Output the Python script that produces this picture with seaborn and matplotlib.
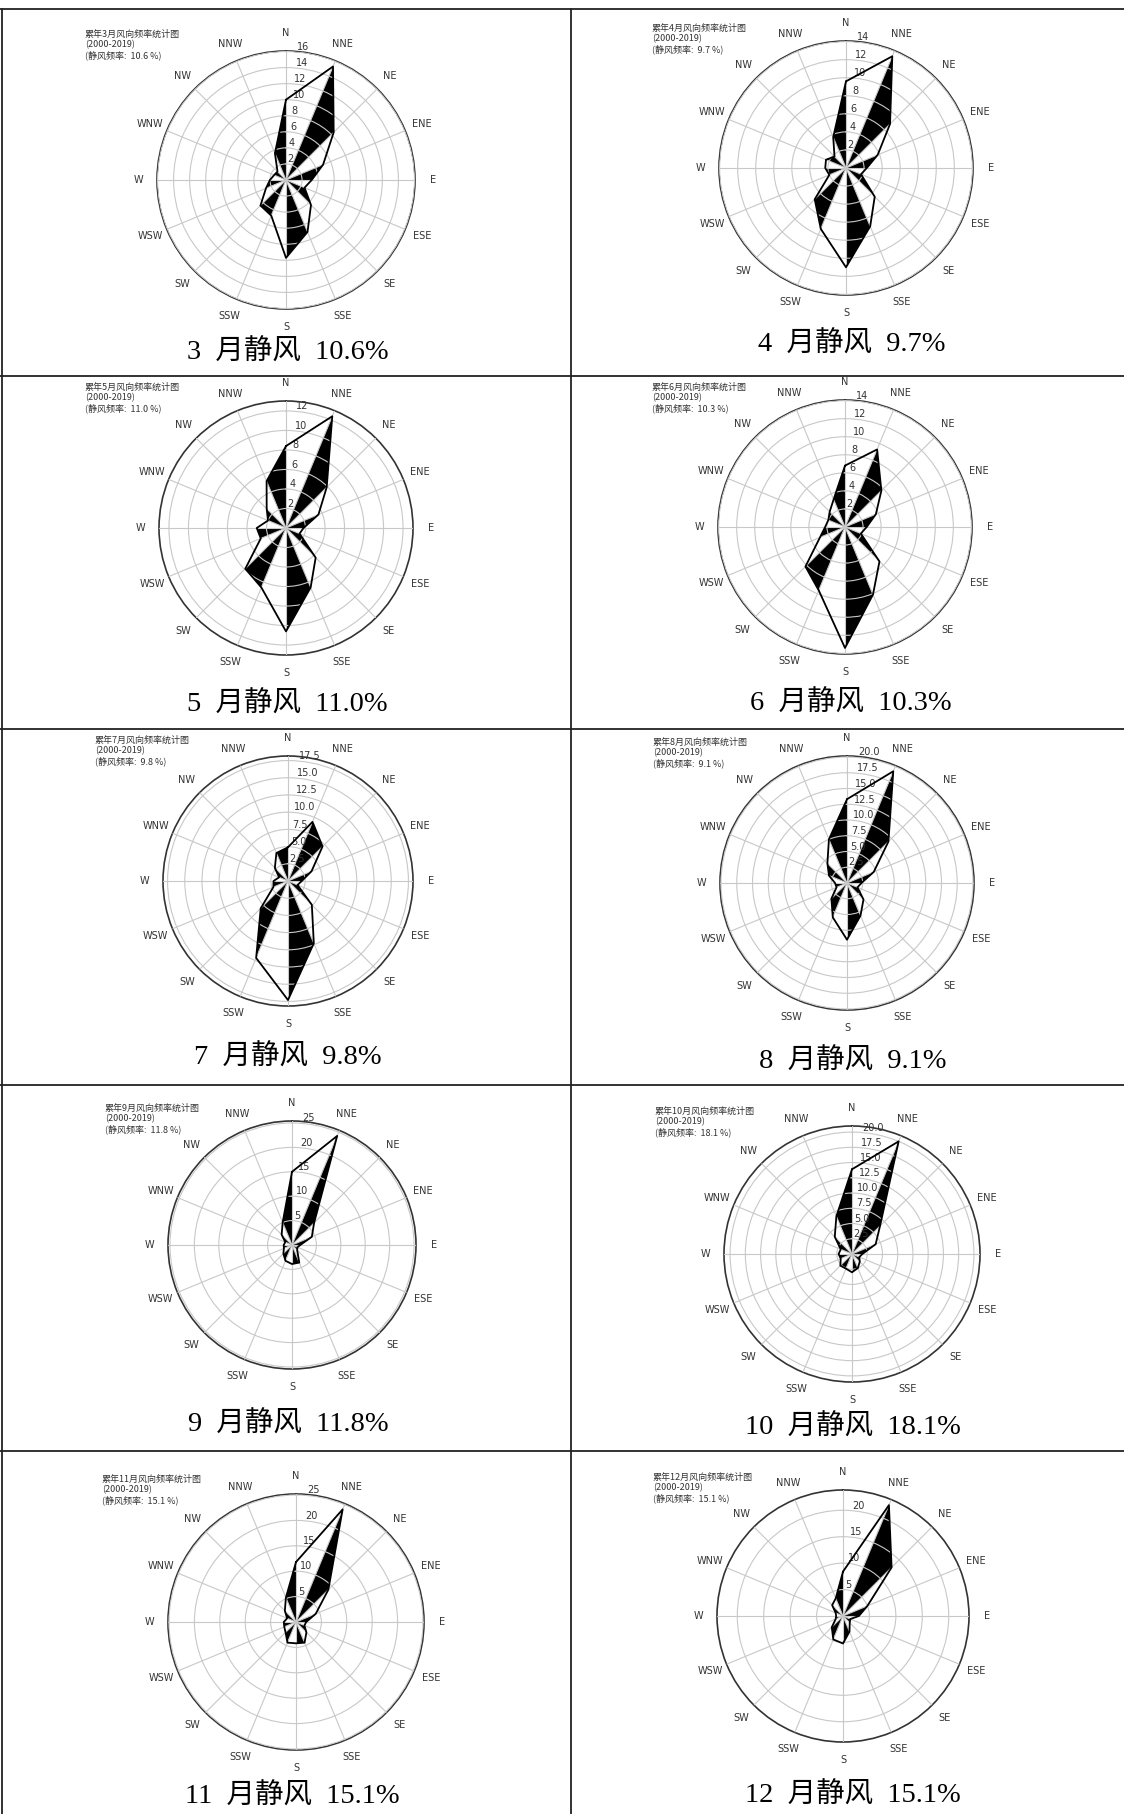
import numpy as np
import matplotlib
matplotlib.use("Agg")
import matplotlib.pyplot as plt
import seaborn as sns
from matplotlib.lines import Line2D
from matplotlib.ticker import MaxNLocator

# ---------------- data ----------------
directions = ["N", "NNE", "NE", "ENE", "E", "ESE", "SE", "SSE",
              "S", "SSW", "SW", "WSW", "W", "WNW", "NW", "NNW"]
months = [3, 4, 5, 6, 7, 8, 9, 10, 11, 12]
calm_rate = [10.6, 9.7, 11.0, 10.3, 9.8, 9.1, 11.8, 18.1, 15.1, 15.1]

freq_mar = [10.0, 15.3, 8.4, 5.0, 3.2, 2.5, 4.4, 7.0, 9.7, 4.8, 4.5, 2.7, 2.0, 1.6, 1.5, 3.6]
freq_apr = [9.6, 13.4, 6.9, 3.8, 2.3, 1.8, 4.5, 7.0, 11.0, 7.3, 4.9, 2.0, 2.3, 2.4, 1.8, 3.7]
freq_may = [8.4, 12.4, 5.9, 3.6, 1.8, 1.5, 4.3, 6.6, 10.6, 6.6, 5.9, 2.8, 3.0, 2.0, 2.8, 5.2]
freq_jun = [6.8, 9.3, 5.7, 3.7, 2.4, 1.9, 5.4, 8.1, 13.4, 7.6, 6.2, 3.0, 2.2, 2.0, 2.4, 3.3]
freq_jul = [4.9, 9.3, 7.1, 3.7, 2.0, 1.5, 4.9, 9.8, 17.3, 12.1, 5.6, 2.3, 2.1, 1.4, 2.7, 4.4]
freq_aug = [13.3, 19.2, 9.3, 4.6, 2.3, 1.8, 3.7, 5.6, 9.0, 5.9, 3.5, 1.8, 1.9, 3.1, 4.4, 7.5]
freq_sep = [15.0, 24.2, 6.4, 4.4, 1.7, 1.2, 1.5, 3.9, 3.9, 3.5, 2.5, 1.8, 1.7, 1.5, 3.0, 5.0]
freq_oct = [13.9, 20.0, 6.5, 4.2, 1.7, 1.3, 1.8, 2.5, 3.0, 2.6, 2.7, 2.0, 2.2, 2.0, 4.0, 6.7]
freq_nov = [11.8, 24.0, 9.0, 4.2, 2.0, 1.8, 2.9, 4.4, 4.2, 4.4, 2.9, 2.5, 2.4, 1.9, 3.1, 5.2]
freq_dec = [8.4, 22.7, 13.0, 5.0, 3.0, 1.5, 1.8, 3.2, 5.2, 4.8, 3.0, 1.5, 1.3, 1.5, 2.9, 3.6]

freqs = [freq_mar, freq_apr, freq_may, freq_jun, freq_jul,
         freq_aug, freq_sep, freq_oct, freq_nov, freq_dec]

# ---------------- layout (pixels in the 1124x1814 canvas) ----------------
W, H = 1124, 1814
rose_center = [(286, 180), (846, 168), (286, 528), (845, 527), (288, 881),
               (847, 883), (292, 1245), (852, 1254), (296, 1622), (843, 1616)]
rose_radius = [129, 127, 127, 127, 125, 127, 124, 128, 128, 126]
title_xy = [(85, 30), (652, 24), (85, 383), (652, 383), (95, 736),
            (653, 738), (105, 1104), (655, 1107), (102, 1475), (653, 1473)]
caption_xy = [(288, 353), (852, 345), (287, 705), (851, 704), (288, 1058),
              (853, 1062), (288, 1425), (853, 1428), (292, 1797), (853, 1796)]
h_lines = [9, 376, 729, 1085, 1451]
v_lines = [2, 571]

sns.set_theme(style="white")
plt.rcParams["font.family"] = ["DejaVu Sans", "Noto Sans CJK SC"]

fig = plt.figure(figsize=(W / 100, H / 100), dpi=100)
fig.patch.set_facecolor("white")

theta = np.deg2rad(np.arange(16) * 22.5)
theta_closed = np.append(theta, 2 * np.pi)

for k, m in enumerate(months):
    vals = np.array(freqs[k], dtype=float)
    cx, cy = rose_center[k]
    R = rose_radius[k]
    ax = fig.add_axes([(cx - R) / W, 1 - (cy + R) / H, 2 * R / W, 2 * R / H],
                      projection="polar")
    ax.set_theta_zero_location("N")
    ax.set_theta_direction(-1)
    ax.set_facecolor("white")

    # alternating black sectors
    r_closed = np.append(vals, vals[0])
    for i in range(1, 16, 2):
        ax.fill([theta_closed[i], theta_closed[i], theta_closed[i + 1]],
                [0, r_closed[i], r_closed[i + 1]],
                color="black", lw=0, zorder=1)
    # outline
    sns.lineplot(x=theta_closed, y=r_closed, sort=False, estimator=None,
                 color="black", lw=1.3, ax=ax, zorder=3)
    ax.set_xlabel("")
    ax.set_ylabel("")

    rmax = vals.max() * 1.05
    ax.set_ylim(0, rmax)
    ticks = MaxNLocator(nbins=9, steps=[1, 2, 2.5, 5, 10]).tick_values(0, rmax)
    ticks = [t for t in ticks if 0 < t <= rmax + 1e-9]
    ax.set_yticks(ticks)
    ax.set_rlabel_position(5)
    ax.tick_params(axis="y", labelsize=7, labelcolor="#333333")

    ax.set_xticks(theta)
    ax.set_xticklabels(directions)
    ax.tick_params(axis="x", labelsize=7, labelcolor="#333333", pad=0)

    ax.set_axisbelow(False)
    ax.grid(True, color="#c8c8c8", lw=0.8)
    ax.spines["polar"].set_color("#333333")
    ax.spines["polar"].set_linewidth(1.2)

    tx, ty = title_xy[k]
    fig.text(tx / W, 1 - ty / H,
             f"累年{m}月风向频率统计图\n(2000-2019)\n(静风频率:  {calm_rate[k]:.1f} %)",
             fontsize=6.5, color="#333333", va="top", ha="left",
             linespacing=1.15, family=["Noto Sans CJK SC", "DejaVu Sans"])

    px, py = caption_xy[k]
    fig.text(px / W, 1 - py / H, f"{m}  月静风  {calm_rate[k]:.1f}%",
             fontsize=20.5, color="black", ha="center", va="center",
             family=["Liberation Serif", "Noto Sans CJK SC"])

# table lines
for y in h_lines:
    fig.add_artist(Line2D([0, 1], [1 - y / H, 1 - y / H], color="#222222",
                          lw=1.3, transform=fig.transFigure))
for x in v_lines:
    fig.add_artist(Line2D([x / W, x / W], [0, 1 - h_lines[0] / H], color="#222222",
                          lw=1.3, transform=fig.transFigure))

fig.savefig("out.png", dpi=100, facecolor="white")
